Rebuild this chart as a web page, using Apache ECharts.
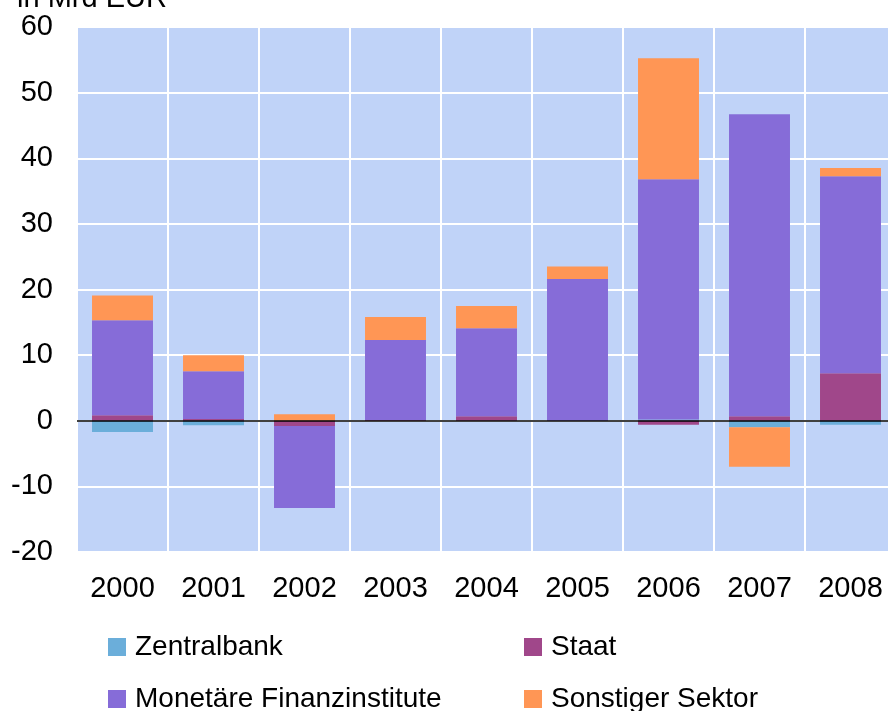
<!DOCTYPE html>
<html>
<head>
<meta charset="utf-8">
<script src="https://cdn.jsdelivr.net/npm/echarts@6/dist/echarts.min.js"></script>
<style>
    html, body { margin: 0; padding: 0; background: #fff; }
    #chart { width: 888px; height: 711px; }
</style>
</head>
<body>
<div id="chart"></div>
<script>
var years = ['2000', '2001', '2002', '2003', '2004', '2005', '2006', '2007', '2008'];
var yTicks = [-20, -10, 0, 10, 20, 30, 40, 50, 60];

var zentralbank = [-1.7, -0.7, 0, 0, 0, 0, 0.2, -1.0, -0.6];
var staat = [0.85, 0.25, -0.8, 0.1, 0.7, 0, -0.6, 0.7, 7.25];
var mfi = [14.45, 7.3, -12.5, 12.2, 13.4, 21.6, 36.6, 46.0, 30.0];
var sonstiger = [3.8, 2.45, 1.0, 3.5, 3.4, 1.9, 18.45, -6.0, 1.25];

var FONT = 'Liberation Sans, Arial, sans-serif';
var FS = 29;

var chart = echarts.init(document.getElementById('chart'));

function bar(name, data, color) {
    return {
        name: name,
        type: 'bar',
        stack: 'total',
        barCategoryGap: '33%',
        itemStyle: { color: color },
        data: data
    };
}

function legendItem(name, left, top) {
    return {
        data: [name],
        left: left,
        top: top,
        itemWidth: 18,
        itemHeight: 18,
        itemGap: 0,
        icon: 'rect',
        textStyle: { fontFamily: FONT, fontSize: 28, color: '#000', padding: [0, 0, 0, 4] }
    };
}

var series = [
    bar('Zentralbank', zentralbank, '#6BAEDA'),
    bar('Staat', staat, '#A0478A'),
    bar('Monetäre Finanzinstitute', mfi, '#866CD8'),
    bar('Sonstiger Sektor', sonstiger, '#FF9655')
];

// zero line across the plot
series[0].markLine = {
    silent: true,
    symbol: 'none',
    label: { show: false },
    lineStyle: { color: '#000', width: 1.5, type: 'solid' },
    data: [{ yAxis: 0 }]
};

chart.setOption({
    animation: false,
    title: {
        text: 'in Mrd EUR',
        left: 12,
        top: -21,
        textStyle: { fontFamily: FONT, fontSize: FS, fontWeight: 'normal', color: '#000' }
    },
    legend: [
        legendItem('Zentralbank', 103, 628),
        legendItem('Staat', 519, 628),
        legendItem('Monetäre Finanzinstitute', 103, 680),
        legendItem('Sonstiger Sektor', 519, 680)
    ],
    grid: {
        left: 77,
        width: 819,
        top: 27,
        bottom: 159,
        outerBoundsMode: 'none',
        show: true,
        backgroundColor: '#C0D3F8',
        borderWidth: 0
    },
    xAxis: {
        type: 'category',
        data: years,
        axisLine: { show: false },
        axisTick: { show: false },
        axisLabel: { fontFamily: FONT, fontSize: FS, color: '#000', margin: 22 },
        splitLine: { show: true, lineStyle: { color: '#fff', width: 2 } }
    },
    yAxis: {
        type: 'value',
        min: yTicks[0],
        max: yTicks[yTicks.length - 1],
        interval: 10,
        axisLine: { show: false },
        axisTick: { show: false },
        axisLabel: { fontFamily: FONT, fontSize: FS, color: '#000', margin: 24 },
        splitLine: { show: true, lineStyle: { color: '#fff', width: 2 } }
    },
    series: series
});
</script>
</body>
</html>
